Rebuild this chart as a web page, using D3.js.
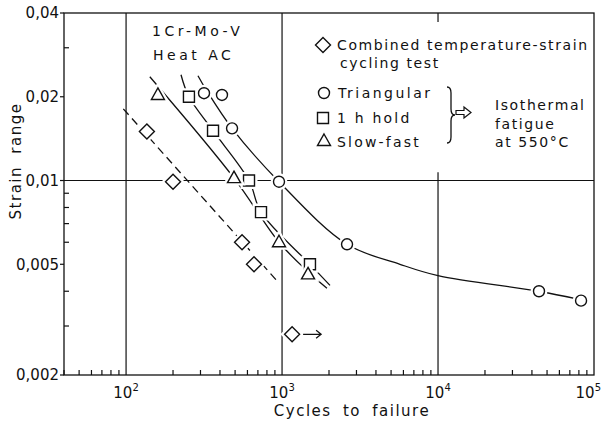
<!DOCTYPE html>
<html>
<meta charset="utf-8">
<script src="https://d3js.org/d3.v7.min.js"></script>
<style>
body { margin: 0; background: #fff; }
text { font-family: "DejaVu Sans", sans-serif; fill: #111; }
</style>
<div id="chart"></div>
<script>
// isothermal fatigue data (cycles, strain range)
var triangularN = [316, 412, 478, 956, 2610, 44400, 82600];
var triangularS = [0.0206, 0.0203, 0.0154, 0.0099, 0.0059, 0.0040, 0.0037];
var holdN = [253, 361, 614, 733, 1510];
var holdS = [0.020, 0.0151, 0.0100, 0.0077, 0.0050];
var slowFastN = [160, 492, 956, 1468];
var slowFastS = [0.0203, 0.0102, 0.0060, 0.0046];
// combined temperature-strain cycling
var combinedN = [136, 200, 554, 661];
var combinedS = [0.0150, 0.0099, 0.0060, 0.0050];
var runoutN = [1160];
var runoutS = [0.0028];

// hand drawn fit lines
var triFitN = [289, 326, 478, 956, 2610, 5700, 10000, 44000, 79000];
var triFitS = [0.0238, 0.0212, 0.0154, 0.0099, 0.0059, 0.0050, 0.00455, 0.00400, 0.00375];
var holdFitN = [225, 253, 361, 614, 733, 1510, 2030];
var holdFitS = [0.024, 0.020, 0.0151, 0.0100, 0.0077, 0.0050, 0.0042];
var sfFitN = [142, 492, 956, 1468, 1940];
var sfFitS = [0.0236, 0.0102, 0.0060, 0.0047, 0.0041];
var combFitN = [96, 956];
var combFitS = [0.0181, 0.00428];

var xTicks = [1e2, 1e3, 1e4, 1e5];
var xTickExp = ["2", "3", "4", "5"];
var yTicks = [0.002, 0.005, 0.01, 0.02, 0.04];
var yTickLabels = ["0,002", "0,005", "0,01", "0,02", "0,04"];
var yMinor = [0.003, 0.004, 0.006, 0.007, 0.008, 0.009, 0.03];

var margin = {top: 13, right: 8, bottom: 48, left: 64},
  width = 602 - margin.left - margin.right,
  height = 423 - margin.top - margin.bottom;

var svg = d3.select("#chart")
.append("svg")
  .attr("width", 602)
  .attr("height", 423);
var g = svg.append("g")
  .attr("transform", "translate(" + margin.left + "," + margin.top + ")");

var x = d3.scaleLog().domain([40, 1e5]).range([0, width]);
var y = d3.scaleLog().domain([0.002, 0.04]).range([height, 0]);

var ink = "#111";

// frame
g.append("rect")
  .attr("width", width).attr("height", height)
  .attr("fill", "none").attr("stroke", ink).attr("stroke-width", 1.3);

// grid lines
[1e2, 1e3].forEach(function(v) {
  g.append("line").attr("x1", x(v)).attr("x2", x(v)).attr("y1", 0).attr("y2", height)
    .attr("stroke", ink).attr("stroke-width", 1.2);
});
g.append("line").attr("x1", x(1e4)).attr("x2", x(1e4)).attr("y1", y(0.0107)).attr("y2", height)
  .attr("stroke", ink).attr("stroke-width", 1.2);
g.append("line").attr("x1", x(1e4)).attr("x2", x(1e4)).attr("y1", 0).attr("y2", 9)
  .attr("stroke", ink).attr("stroke-width", 1.2);
g.append("line").attr("x1", 0).attr("x2", width).attr("y1", y(0.01)).attr("y2", y(0.01))
  .attr("stroke", ink).attr("stroke-width", 1.2);

// x minor ticks (inward)
var xMinor = [];
[10, 100, 1000, 10000].forEach(function(d) {
  for (var k = 2; k <= 9; k++) if (d * k >= 40) xMinor.push(d * k);
});
g.selectAll(".xm").data(xMinor).enter().append("line")
  .attr("x1", function(d) { return x(d); }).attr("x2", function(d) { return x(d); })
  .attr("y1", height).attr("y2", height - 5)
  .attr("stroke", ink).attr("stroke-width", 1.2);

// y minor ticks (inward)
g.selectAll(".ym").data(yMinor).enter().append("line")
  .attr("x1", 0).attr("x2", 5)
  .attr("y1", function(d) { return y(d); }).attr("y2", function(d) { return y(d); })
  .attr("stroke", ink).attr("stroke-width", 1.2);

// y labelled ticks (outward)
g.selectAll(".yt").data(yTicks).enter().append("line")
  .attr("x1", -4).attr("x2", 0)
  .attr("y1", function(d) { return y(d); }).attr("y2", function(d) { return y(d); })
  .attr("stroke", ink).attr("stroke-width", 1.2);
g.selectAll(".yl").data(yTicks).enter().append("text")
  .attr("x", -5).attr("y", function(d) { return y(d); })
  .attr("dy", "0.36em").attr("text-anchor", "end")
  .style("font-size", "15px")
  .text(function(d, i) { return yTickLabels[i]; });

// x labels 10^n (last one kept inside the page)
var xl = g.selectAll(".xl").data(xTicks).enter().append("text")
  .attr("x", function(d, i) { return i === xTicks.length - 1 ? width + margin.right - 1 : x(d); })
  .attr("y", height + 23)
  .attr("text-anchor", function(d, i) { return i === xTicks.length - 1 ? "end" : "middle"; })
  .style("font-size", "15px");
xl.append("tspan").text("10");
xl.append("tspan").attr("dy", -7).style("font-size", "10px")
  .text(function(d, i) { return xTickExp[i]; });

// axis titles
svg.append("text")
  .attr("x", 352).attr("y", 416).attr("text-anchor", "middle")
  .style("font-size", "15px").style("letter-spacing", "1.5px").style("word-spacing", "5px")
  .text("Cycles to failure");
svg.append("text")
  .attr("transform", "translate(21,161) rotate(-90)").attr("text-anchor", "middle")
  .style("font-size", "15px").style("letter-spacing", "1.5px").style("word-spacing", "6px")
  .text("Strain range");

// fit lines
function pts(n, s) { return n.map(function(v, i) { return [v, s[i]]; }); }
var line = d3.line()
  .x(function(d) { return x(d[0]); })
  .y(function(d) { return y(d[1]); })
  .curve(d3.curveCatmullRom.alpha(0.5));

[[triFitN, triFitS], [holdFitN, holdFitS], [sfFitN, sfFitS]].forEach(function(f) {
  g.append("path").datum(pts(f[0], f[1])).attr("d", line)
    .attr("fill", "none").attr("stroke", ink).attr("stroke-width", 1.3);
});
g.append("path").datum(pts(combFitN, combFitS)).attr("d", line)
  .attr("fill", "none").attr("stroke", ink).attr("stroke-width", 1.3)
  .attr("stroke-dasharray", "8,5");

// marker shapes
var shapes = {
  circle: "M5.5,0A5.5,5.5 0 1,1 -5.5,0A5.5,5.5 0 1,1 5.5,0Z",
  square: "M-5.5,-5.5H5.5V5.5H-5.5Z",
  triangle: "M0,-7L6.5,4.5H-6.5Z",
  diamond: "M0,-7.5L7.5,0L0,7.5L-7.5,0Z"
};
function markers(n, s, shape) {
  var d = pts(n, s);
  var sel = g.append("g");
  // white halo so the lines break at each marker
  sel.selectAll(".h").data(d).enter().append("path")
    .attr("transform", function(p) { return "translate(" + x(p[0]) + "," + y(p[1]) + ")"; })
    .attr("d", shapes[shape]).attr("fill", "#fff").attr("stroke", "#fff").attr("stroke-width", 6);
  sel.selectAll(".m").data(d).enter().append("path")
    .attr("transform", function(p) { return "translate(" + x(p[0]) + "," + y(p[1]) + ")"; })
    .attr("d", shapes[shape]).attr("fill", "#fff").attr("stroke", ink).attr("stroke-width", 1.4);
}
markers(combinedN, combinedS, "diamond");
markers(runoutN, runoutS, "diamond");
markers(holdN, holdS, "square");
markers(slowFastN, slowFastS, "triangle");
markers(triangularN, triangularS, "circle");

// run-out arrow
var rx = x(runoutN[0]), ry = y(runoutS[0]);
g.append("path")
  .attr("d", "M" + (rx + 11) + "," + ry + "h18m-5,-4l5,4l-5,4")
  .attr("fill", "none").attr("stroke", ink).attr("stroke-width", 1.3);

// legend and notes
var fs = "14px";
function label(tx, ty, str, ls) {
  svg.append("text").attr("x", tx).attr("y", ty)
    .style("font-size", fs).style("letter-spacing", (ls || 1.6) + "px")
    .text(str);
}
label(152, 36, "1Cr-Mo-V", 3.5);
label(153, 60, "Heat  AC", 3.5);

var leg = svg.append("g");
[["diamond", 323, 45], ["circle", 324, 93], ["square", 323, 118], ["triangle", 324, 141]].forEach(function(m) {
  leg.append("path").attr("transform", "translate(" + m[1] + "," + m[2] + ")")
    .attr("d", shapes[m[0]]).attr("fill", "#fff").attr("stroke", ink).attr("stroke-width", 1.4);
});
label(337, 50, "Combined temperature-strain", 1.6);
label(340, 68, "cycling  test", 1.6);
label(338, 98, "Triangular", 2.5);
label(337, 123, "1 h  hold", 2.2);
label(337, 147, "Slow-fast", 2.2);

// brace
svg.append("path")
  .attr("d", "M447,87q4,0 4,6v16q0,6 4,6q-4,0 -4,6v16q0,6 -4,6")
  .attr("fill", "none").attr("stroke", ink).attr("stroke-width", 1.3);
// hollow arrow
svg.append("path")
  .attr("d", "M456,110.5h8v-3.5l7,5.5l-7,5.5v-3.5h-8z")
  .attr("fill", "#fff").attr("stroke", ink).attr("stroke-width", 1.2);

label(495, 110, "Isothermal", 1.6);
label(495, 129, "fatigue", 1.6);
label(495, 147, "at 550\u00b0C", 1.6);
</script>
</html>
